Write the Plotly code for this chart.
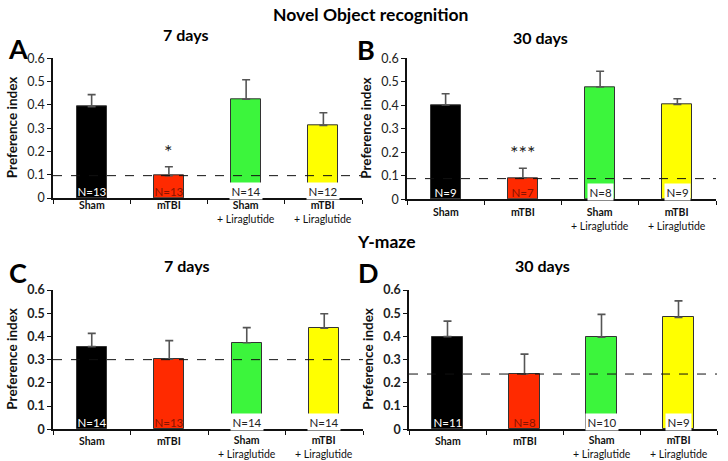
import plotly.graph_objects as go

W, H = 728, 461

groups = ["Sham", "mTBI", "Sham + Liraglutide", "mTBI + Liraglutide"]
label_line1 = ["Sham", "mTBI", "Sham", "mTBI"]
label_line2 = ["", "", "+ Liraglutide", "+ Liraglutide"]
bar_colors = ["#000000", "#ff2a00", "#3cf53c", "#ffff00"]

# Panel A: Novel object recognition, 7 days
a_vals = [0.392, 0.096, 0.424, 0.312]
a_err = [0.052, 0.038, 0.084, 0.054]
a_n = ["N=13", "N=13", "N=14", "N=12"]
a_ref = 0.096
# Panel B: Novel object recognition, 30 days
b_vals = [0.401, 0.091, 0.478, 0.404]
b_err = [0.048, 0.041, 0.067, 0.024]
b_n = ["N=9", "N=7", "N=8", "N=9"]
b_ref = 0.088
# Panel C: Y-maze, 7 days
c_vals = [0.356, 0.302, 0.373, 0.436]
c_err = [0.057, 0.080, 0.065, 0.062]
c_n = ["N=14", "N=13", "N=14", "N=14"]
c_ref = 0.300
# Panel D: Y-maze, 30 days
d_vals = [0.399, 0.238, 0.397, 0.482]
d_err = [0.067, 0.086, 0.098, 0.071]
d_n = ["N=11", "N=8", "N=10", "N=9"]
d_ref = 0.238

FONT = "Lato, 'Open Sans', sans-serif"

def px_x(p):
    return p / W

def px_y(p):
    return 1 - p / H

panels = [
    dict(vals=a_vals, err=a_err, n=a_n, ref=a_ref, xd=[53, 362], yd=[58.3, 198.0], bold=False,
         letter="A", lpos=(18, 48), sub="7 days", spos=(185, 35), star="*", cat_y=(205, 218)),
    dict(vals=b_vals, err=b_err, n=b_n, ref=b_ref, xd=[407, 716], yd=[58.3, 199.3], bold=False,
         letter="B", lpos=(366, 50), sub="30 days", spos=(540, 37), star="***", cat_y=(212, 225)),
    dict(vals=c_vals, err=c_err, n=c_n, ref=c_ref, xd=[53, 363], yd=[290.0, 429.3], bold=True,
         letter="C", lpos=(18, 272), sub="7 days", spos=(186, 265), star=None, cat_y=(440.5, 452.5)),
    dict(vals=d_vals, err=d_err, n=d_n, ref=d_ref, xd=[409, 717], yd=[290.0, 429.3], bold=True,
         letter="D", lpos=(368, 272), sub="30 days", spos=(542, 265), star=None, cat_y=(440.5, 452.5)),
]

fig = go.Figure()
annotations = []
shapes = []

def ann(**kw):
    kw.setdefault("xanchor", "center")
    kw.setdefault("yanchor", "middle")
    kw.setdefault("showarrow", False)
    annotations.append(kw)

for i, p in enumerate(panels):
    k = "" if i == 0 else str(i + 1)
    xa, ya = "x" + k, "y" + k
    fig.add_trace(go.Bar(
        x=list(range(len(groups))), y=p["vals"], width=0.39,
        marker=dict(color=bar_colors, line=dict(color="#333333", width=1)),
        error_y=dict(type="data", symmetric=False, array=p["err"], arrayminus=[0] * 4,
                     color="#555555", thickness=1.6, width=4),
        xaxis=xa, yaxis=ya, showlegend=False, hoverinfo="skip",
    ))
    fig.layout["xaxis" + k] = dict(
        domain=[px_x(p["xd"][0]), px_x(p["xd"][1])], range=[-0.5, 3.5], anchor=ya,
        tickvals=list(range(4)), showticklabels=False, ticks="", automargin=False,
        showline=True, linecolor="#111111", linewidth=1.5, showgrid=False, zeroline=False,
        minor=dict(tick0=-0.5, dtick=1, ticks="outside", ticklen=4, tickcolor="#111111", tickwidth=1.2),
    )
    fig.layout["yaxis" + k] = dict(
        domain=[px_y(p["yd"][1]), px_y(p["yd"][0])], range=[0, 0.6], anchor=xa, automargin=False,
        tickvals=[0, 0.1, 0.2, 0.3, 0.4, 0.5, 0.6],
        ticktext=[("<b>%g</b>" if p["bold"] else "%g") % v for v in [0, 0.1, 0.2, 0.3, 0.4, 0.5, 0.6]],
        ticks="outside", ticklen=4, tickcolor="#111111", tickwidth=1.2,
        tickfont=dict(family=FONT, size=12.5, color="#222222"),
        showline=True, linecolor="#111111", linewidth=1.5,
        showgrid=False, zeroline=False,
    )
    shapes.append(dict(type="line", xref=xa, yref=ya, x0=-0.5, x1=3.5, y0=p["ref"], y1=p["ref"],
                       line=dict(color="#111111", width=1, dash="dash")))
    # category labels
    for j in range(len(groups)):
        if label_line2[j]:
            ann(x=j, y=px_y((p["cat_y"][0] + p["cat_y"][1]) / 2), xref=xa, yref="paper",
                text="<b>%s</b><br>%s" % (label_line1[j], label_line2[j]), borderpad=0,
                font=dict(family=FONT, size=10.5, color="#111111"))
        else:
            ann(x=j, y=px_y(p["cat_y"][0]), xref=xa, yref="paper", text="<b>%s</b>" % label_line1[j],
                borderpad=0, font=dict(family=FONT, size=10.5, color="#111111"))
    # N labels
    for j, lab in enumerate(p["n"]):
        if j == 0:
            fc, bg = "#ffffff", "rgba(0,0,0,0)"
        elif j == 1:
            fc, bg = "#8a1400", "rgba(0,0,0,0)"
        else:
            fc, bg = "#222222", "#ffffff"
        ann(x=j, y=0.03, xref=xa, yref=ya, text=lab,
            font=dict(family=FONT, size=11.5, color=fc), bgcolor=bg, borderpad=1.5)
    ann(x=px_x(p["xd"][0] - 41), y=px_y((p["yd"][0] + p["yd"][1]) / 2),
        xref="paper", yref="paper", text="<b>Preference index</b>", textangle=-90,
        font=dict(family=FONT, size=13.5, color="#111111"))
    ann(x=px_x(p["lpos"][0]), y=px_y(p["lpos"][1]), xref="paper", yref="paper",
        text="<b>%s</b>" % p["letter"], font=dict(family=FONT, size=27, color="#000000"))
    ann(x=px_x(p["spos"][0]), y=px_y(p["spos"][1]), xref="paper", yref="paper",
        text="<b>%s</b>" % p["sub"], font=dict(family=FONT, size=16, color="#000000"))
    if p["star"]:
        ann(x=1, y=0.2, xref=xa, yref=ya, text=p["star"],
            font=dict(family=FONT, size=20, color="#222222"))

ann(x=px_x(370), y=px_y(14), xref="paper", yref="paper",
    text="<b>Novel Object recognition</b>", font=dict(family=FONT, size=17.5, color="#000000"))
ann(x=px_x(386), y=px_y(241), xref="paper", yref="paper",
    text="<b>Y-maze</b>", font=dict(family=FONT, size=17.5, color="#000000"))

fig.update_layout(width=W, height=H, margin=dict(l=0, r=0, t=0, b=0, autoexpand=False),
                  plot_bgcolor="white", paper_bgcolor="white",
                  annotations=annotations, shapes=shapes, bargap=0)

fig.write_html("out.html", config={"displayModeBar": False},
               post_script="document.body.style.margin='0px';document.body.style.overflow='hidden';")
